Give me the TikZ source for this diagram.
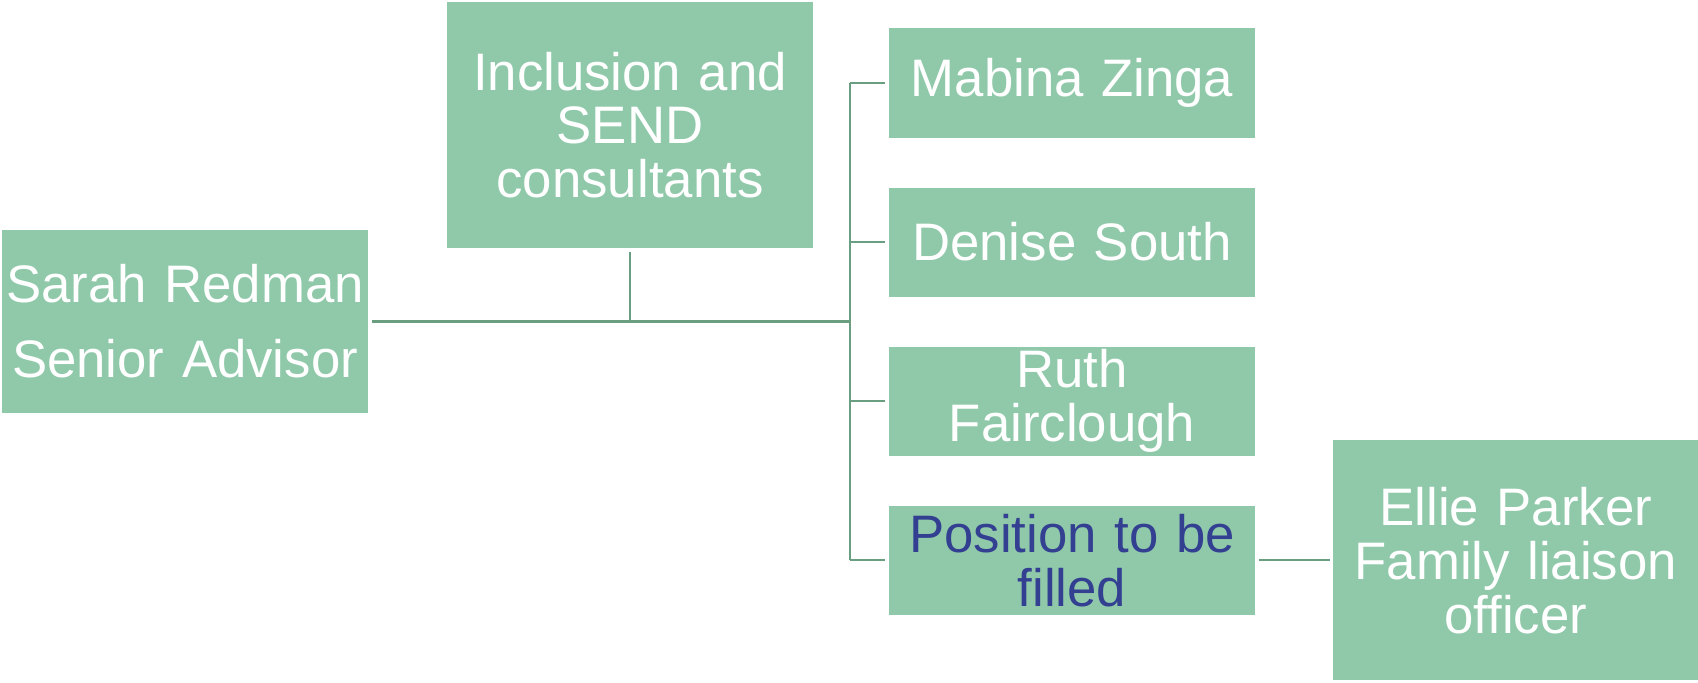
\documentclass[tikz,border=0pt]{standalone}
\usepackage{fontspec}
\setmainfont{Liberation Sans}
\usepackage{xcolor}
\usetikzlibrary{positioning,calc}
\definecolor{boxgreen}{HTML}{90C9AA}
\definecolor{linegreen}{HTML}{6A9E80}
\definecolor{vacantblue}{HTML}{333F91}

\begin{document}
\begin{tikzpicture}[x=0.01cm, y=-0.01cm, node distance=0.43cm,
  every node/.style={font=\fontsize{15}{15.3}\selectfont, fill=boxgreen, text=white, align=center, inner sep=0pt, outer sep=1pt, minimum width=3.66cm, text width=3.6cm},
  link/.style={draw=linegreen, line width=0.6pt}]
\useasboundingbox (0,0) rectangle (1698,682);
\node (sarah) [minimum height=1.83cm] at (185,321.5) {Sarah Redman\\[6pt]Senior Advisor};
\node (incl) [minimum height=2.46cm] at (630,125) {Inclusion and\\SEND\\consultants};
\node (mabina) [minimum height=1.09cm] at (1072,83) {Mabina Zinga};
\node (denise) [minimum height=1.09cm, below=of mabina] {Denise South};
\node (ruth) [minimum height=1.09cm, below=of denise] {Ruth\\Fairclough};
\node (pos) [minimum height=1.09cm, below=of ruth, text=vacantblue] {Position to be\\filled};
\node (ellie) [minimum height=2.40cm, minimum width=3.65cm, right=0.71cm of pos] {Ellie Parker\\Family liaison\\officer};
\coordinate (bus) at (850,321.5);
\draw[link, line width=1.1pt] (sarah.east) -- (bus);
\draw[link] (incl.south) -- (incl.south |- bus);
\draw[link] (mabina.west -| bus) -- (pos.west -| bus);
\foreach \n in {mabina,denise,ruth,pos} \draw[link] (\n.west -| bus) -- (\n.west);
\draw[link] (pos) -- (ellie);
\end{tikzpicture}
\end{document}
